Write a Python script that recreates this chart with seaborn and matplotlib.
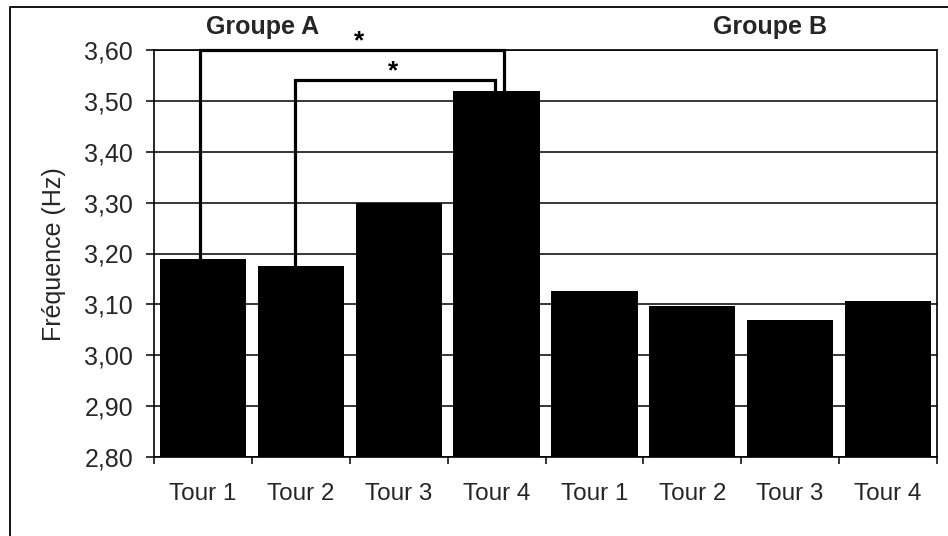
import matplotlib
matplotlib.use("Agg")
import matplotlib.pyplot as plt
import seaborn as sns
import pandas as pd
from matplotlib.lines import Line2D

# ---- data ----
groups = ["Groupe A"] * 4 + ["Groupe B"] * 4
tours = ["Tour 1", "Tour 2", "Tour 3", "Tour 4"] * 2
values = [3.19, 3.175, 3.30, 3.52, 3.127, 3.097, 3.070, 3.106]
y_ticks = [2.80, 2.90, 3.00, 3.10, 3.20, 3.30, 3.40, 3.50, 3.60]
y_label = "Fréquence (Hz)"
group_labels = ["Groupe A", "Groupe B"]
# significance brackets: (left bar index, right bar index, bracket top)
brackets = [(0, 3, 3.60), (1, 3, 3.542)]

keys = [f"{g}|{t}" for g, t in zip(groups, tours)]
df = pd.DataFrame({"key": keys, "value": values})

sns.set_style("white")
plt.rcParams["font.family"] = ["Liberation Sans", "DejaVu Sans"]

W, H = 948, 536
fig = plt.figure(figsize=(W / 100, H / 100), dpi=100)
ax = fig.add_axes([154 / W, 1 - 457 / H, (937 - 154) / W, (457 - 50) / H])

ax.set_axisbelow(True)
for v in y_ticks:
    ax.axhline(v, color="black", lw=1.1, zorder=0)

sns.barplot(data=df, x="key", y="value", order=keys, color="black",
            width=0.88, saturation=1, edgecolor="none", ax=ax, zorder=2)

ax.set_ylim(y_ticks[0], y_ticks[-1])
ax.set_xlim(-0.5, len(keys) - 0.5)
ax.set_yticks(y_ticks)
ax.set_yticklabels([f"{v:.2f}".replace(".", ",") for v in y_ticks])
ax.tick_params(axis="y", which="major", direction="out", length=6, width=1.1,
               color="black", pad=9, labelsize=18, left=True)

# x ticks: marks at boundaries, labels at centers
n = len(keys)
ax.set_xticks([i - 0.5 for i in range(n + 1)])
ax.set_xticklabels([""] * (n + 1))
ax.set_xticks(list(range(n)), minor=True)
ax.set_xticklabels(tours, minor=True)
ax.tick_params(axis="x", which="major", direction="out", length=5, width=1.1,
               color="black", bottom=True)
ax.tick_params(axis="x", which="minor", length=0, pad=19, labelsize=17.5)
ax.set_xlabel("")
ax.set_ylabel("")

for s in ["left", "bottom", "right", "top"]:
    ax.spines[s].set_visible(True)
    ax.spines[s].set_color("black")
    ax.spines[s].set_linewidth(1.2)

# brackets
offs = [(-0.03, 0.075), (-0.06, -0.02)]
for (i, j, top), (dl, dr) in zip(brackets, offs):
    xs = [i + dl, i + dl, j + dr, j + dr]
    ys = [values[i], top, top, values[j]]
    ax.plot(xs, ys, color="black", lw=2.3, zorder=5, clip_on=False,
            solid_joinstyle="miter")
star_x = [1.60, 1.94]
for (i, j, top), sx in zip(brackets, star_x):
    ax.text(sx, top + 0.003, "*", ha="center", va="baseline", fontsize=19,
            fontweight="bold", color="black", zorder=6)

# group labels
fig.text(263 / W, 1 - 27 / H, group_labels[0], ha="center", va="center",
         fontsize=18, fontweight="bold")
fig.text(770 / W, 1 - 27 / H, group_labels[1], ha="center", va="center",
         fontsize=18, fontweight="bold")

# y label
fig.text(54 / W, 1 - 254 / H, y_label, rotation=90, ha="center", va="center",
         fontsize=18)

# outer chart border (left and top visible)
fig.add_artist(Line2D([10 / W, 10 / W, 1.0], [0.0, 1 - 7 / H, 1 - 7 / H],
                      transform=fig.transFigure, color="black", lw=1.3))

fig.savefig("out.png", dpi=100, facecolor="white")
